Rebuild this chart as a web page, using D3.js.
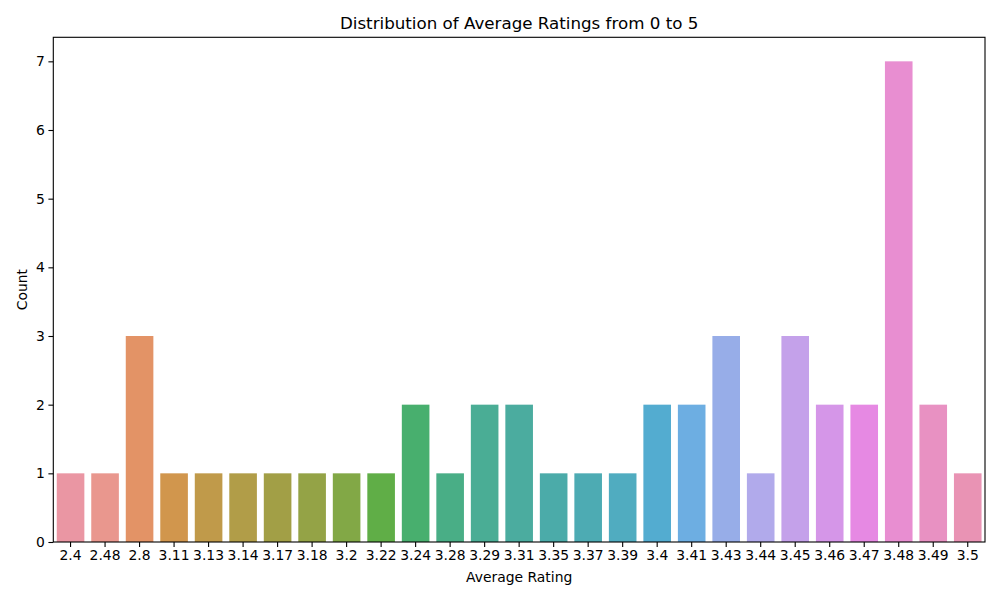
<!DOCTYPE html>
<html lang="en">
  <head>
    <meta charset="UTF-8" />
    <title>Distribution of Average Ratings from 0 to 5</title>
    <script src="https://d3js.org/d3.v7.min.js"></script>
    <style>
      body {
        margin: 0;
        background: white;
        font-family: "DejaVu Sans", sans-serif;
      }
      svg text {
        fill: #000;
      }
    </style>
  </head>
  <body>
    <svg width="1000" height="600"></svg>

    <script>
      const ratings = ["2.4", "2.48", "2.8", "3.11", "3.13", "3.14", "3.17", "3.18", "3.2",
        "3.22", "3.24", "3.28", "3.29", "3.31", "3.35", "3.37", "3.39", "3.4", "3.41",
        "3.43", "3.44", "3.45", "3.46", "3.47", "3.48", "3.49", "3.5"];
      const counts = [1, 1, 3, 1, 1, 1, 1, 1, 1, 1, 2, 1, 2, 2, 1, 1, 1, 2, 2, 3, 1, 3, 2, 2, 7, 2, 1];
      const yTicks = [0, 1, 2, 3, 4, 5, 6, 7];

      const margin = { top: 37.3, right: 15, bottom: 58, left: 53.3 };
      const width = 1000;
      const height = 600;
      const innerW = width - margin.left - margin.right;
      const innerH = height - margin.top - margin.bottom;

      // seaborn-style husl palette, then desaturated for patches
      function huslToRgb(H, S, L) {
        const m = [[3.2406, -1.5372, -0.4986], [-0.9689, 1.8758, 0.0415], [0.0557, -0.204, 1.057]];
        const kappa = 903.2962962, eps = 0.0088564516;
        const refU = 0.19783941550482493, refV = 0.46833630293240986;
        function maxChroma(L, H) {
          const hrad = H / 360 * 2 * Math.PI;
          const sinH = Math.sin(hrad), cosH = Math.cos(hrad);
          const sub1 = Math.pow(L + 16, 3) / 1560896;
          const sub2 = sub1 > eps ? sub1 : L / kappa;
          let result = Infinity;
          m.forEach(([m1, m2, m3]) => {
            const top = (0.99915 * m1 + 1.05122 * m2 + 1.1446 * m3) * sub2;
            const rb = 0.8633 * m3 - 0.17266 * m2;
            const lb = 0.12949 * m3 - 0.38848 * m1;
            const bottom = (rb * sinH + lb * cosH) * sub2;
            [0, 1].forEach((t) => {
              const C = L * (top - 1.05122 * t) / (bottom + 0.17266 * sinH * t);
              if (C > 0 && C < result) result = C;
            });
          });
          return result;
        }
        const C = maxChroma(L, H) / 100 * S;
        const hrad = H / 360 * 2 * Math.PI;
        const U = C * Math.cos(hrad), V = C * Math.sin(hrad);
        const t = (L + 16) / 116;
        const Y = Math.pow(t, 3) > eps ? Math.pow(t, 3) : (116 * t - 16) / kappa;
        const vu = U / (13 * L) + refU, vv = V / (13 * L) + refV;
        const X = 0 - (9 * Y * vu) / ((vu - 4) * vv - vu * vv);
        const Z = (9 * Y - 15 * vv * Y - vv * X) / (3 * vv);
        return m.map((r) => {
          const c = r[0] * X + r[1] * Y + r[2] * Z;
          const v = c <= 0.0031308 ? 12.92 * c : 1.055 * Math.pow(c, 1 / 2.4) - 0.055;
          return Math.min(1, Math.max(0, v));
        });
      }

      function desat(rgb, prop) {
        const c = d3.hsl(d3.rgb(rgb[0] * 255, rgb[1] * 255, rgb[2] * 255));
        c.s *= prop;
        return c.formatHex();
      }

      const n = ratings.length;
      const colors = ratings.map((d, i) => {
        const h = ((i / n + 0.01) % 1) * 359;
        return desat(huslToRgb(h, 0.9 * 99, 0.7 * 99), 0.75);
      });

      const svg = d3.select("svg");
      const g = svg.append("g").attr("transform", `translate(${margin.left},${margin.top})`);

      const x = d3.scaleBand().domain(ratings).range([0, innerW]).paddingInner(0.2).paddingOuter(0.1);
      const y = d3.scaleLinear().domain([0, 7.35]).range([innerH, 0]);

      g.selectAll("rect")
        .data(ratings)
        .enter()
        .append("rect")
        .attr("x", (d) => x(d))
        .attr("width", x.bandwidth())
        .attr("y", (d, i) => y(counts[i]))
        .attr("height", (d, i) => innerH - y(counts[i]))
        .attr("fill", (d, i) => colors[i]);

      const xAxis = g.append("g")
        .attr("transform", `translate(0,${innerH})`)
        .call(d3.axisBottom(x).tickSizeOuter(0).tickSize(4.9).tickPadding(3.5));
      const yAxis = g.append("g")
        .call(d3.axisLeft(y).tickValues(yTicks).tickFormat(d3.format("d")).tickSizeOuter(0).tickSize(4.9).tickPadding(3.5));

      [xAxis, yAxis].forEach((a) => {
        a.select(".domain").remove();
        a.selectAll("line").attr("stroke", "#000").attr("stroke-width", 1.1);
        a.selectAll("text").style("font-size", "13.9px").style("font-family", "DejaVu Sans");
      });

      // frame
      g.append("rect")
        .attr("width", innerW)
        .attr("height", innerH)
        .attr("fill", "none")
        .attr("stroke", "#000")
        .attr("stroke-width", 1.1);

      svg.append("text")
        .attr("x", margin.left + innerW / 2)
        .attr("y", 29)
        .attr("text-anchor", "middle")
        .style("font-size", "16.7px")
        .text("Distribution of Average Ratings from 0 to 5");

      svg.append("text")
        .attr("x", margin.left + innerW / 2)
        .attr("y", 582)
        .attr("text-anchor", "middle")
        .style("font-size", "13.9px")
        .text("Average Rating");

      svg.append("text")
        .attr("transform", `translate(27,${margin.top + innerH / 2}) rotate(-90)`)
        .attr("text-anchor", "middle")
        .style("font-size", "13.9px")
        .text("Count");
    </script>
  </body>
</html>
